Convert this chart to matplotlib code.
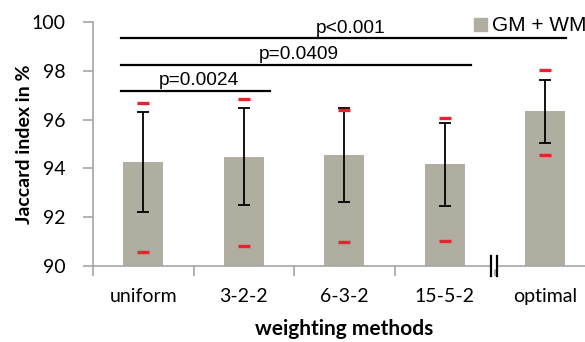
import matplotlib
matplotlib.use("Agg")
import matplotlib.pyplot as plt
from matplotlib.patches import Rectangle

categories = ["uniform", "3-2-2", "6-3-2", "15-5-2", "optimal"]
means = [94.27, 94.48, 94.55, 94.17, 96.35]
stds = [2.04, 2.0, 1.92, 1.70, 1.29]
maxima = [96.67, 96.83, 96.39, 96.07, 98.03]
minima = [90.56, 90.81, 90.98, 91.02, 94.55]
yticks = [90, 92, 94, 96, 98, 100]
sig_labels = ["p=0.0024", "p=0.0409", "p<0.001"]
sig_ends = [1, 3, 4]
sig_levels = [97.18, 98.24, 99.33]
legend_label = "GM + WM"

BAR = "#b0aea1"
RED = "#e8232b"
AX = "#a6a6a6"
LAB = "Lato"
ARIAL = "Liberation Sans"

fig = plt.figure(figsize=(5.85, 3.42), dpi=100)
W, H = 585, 342
ax = fig.add_axes([93 / W, (342 - 266) / H, 502.5 / W, 244 / H])

x = list(range(len(categories)))
ax.bar(x, means, width=0.4, color=BAR, zorder=2)
ax.errorbar(x, means, yerr=stds, fmt="none", ecolor="black", elinewidth=1.3,
            capsize=4, capthick=1.3, zorder=3)
ax.plot(x, maxima, ls="none", marker="_", ms=9, mew=2.4, color=RED, zorder=4)
ax.plot(x, minima, ls="none", marker="_", ms=9, mew=2.4, color=RED, zorder=4)

ax.set_xlim(-0.5, 4.5)
ax.set_ylim(90, 100)
ax.set_yticks(yticks)
ax.set_yticklabels([str(t) for t in yticks], fontfamily=LAB, fontsize=14)
ax.set_xticks(x)
ax.set_xticklabels(categories, fontfamily=LAB, fontsize=14)
ax.set_xticks([i - 0.5 for i in range(len(categories) + 1)], minor=True)
ax.tick_params(axis="x", which="major", length=0, pad=16)
ax.tick_params(axis="x", which="minor", length=7, color=AX, width=1.2)
ax.tick_params(axis="y", length=7, color=AX, width=1.2, pad=13)
for s in ["top", "right"]:
    ax.spines[s].set_visible(False)
for s in ["left", "bottom"]:
    ax.spines[s].set_color(AX)
    ax.spines[s].set_linewidth(1.2)

# significance brackets
for lab, end, lev in zip(sig_labels, sig_ends, sig_levels):
    x0 = -0.22
    x1 = end + (0.21 if end == 4 else 0.265)
    ax.plot([x0, x1], [lev, lev], color="black", lw=1.6, clip_on=False, zorder=5)
    ax.text((x0 + x1) / 2 + (0.07 if end == 4 else 0.03), lev + 0.23, lab,
            ha="center", va="baseline", fontfamily=ARIAL, fontsize=13.8,
            clip_on=False)

# axis break marker
for dx in (-0.035, 0.022):
    ax.plot([3.5 + dx, 3.5 + dx], [89.57, 90.4], color="black", lw=1.6,
            clip_on=False, zorder=6)
ax.add_patch(Rectangle((3.5 - 0.03, 89.9), 0.047, 0.2, color="white",
                       clip_on=False, zorder=5.5))

ax.set_xlabel("weighting methods", fontfamily=LAB, fontweight="bold",
              fontsize=15, labelpad=10)
ax.set_ylabel("Jaccard index in %", fontfamily=LAB, fontweight="bold",
              fontsize=14)
ax.yaxis.set_label_coords(-0.12, 0.5)

# legend
fig.add_artist(Rectangle((474 / W, (342 - 31) / H), 13 / W, 13 / H,
                         transform=fig.transFigure, color=BAR))
fig.text(492 / W, (342 - 31) / H, legend_label, fontfamily=ARIAL, fontsize=15,
         va="baseline", ha="left")

fig.savefig("out.png", dpi=100)
